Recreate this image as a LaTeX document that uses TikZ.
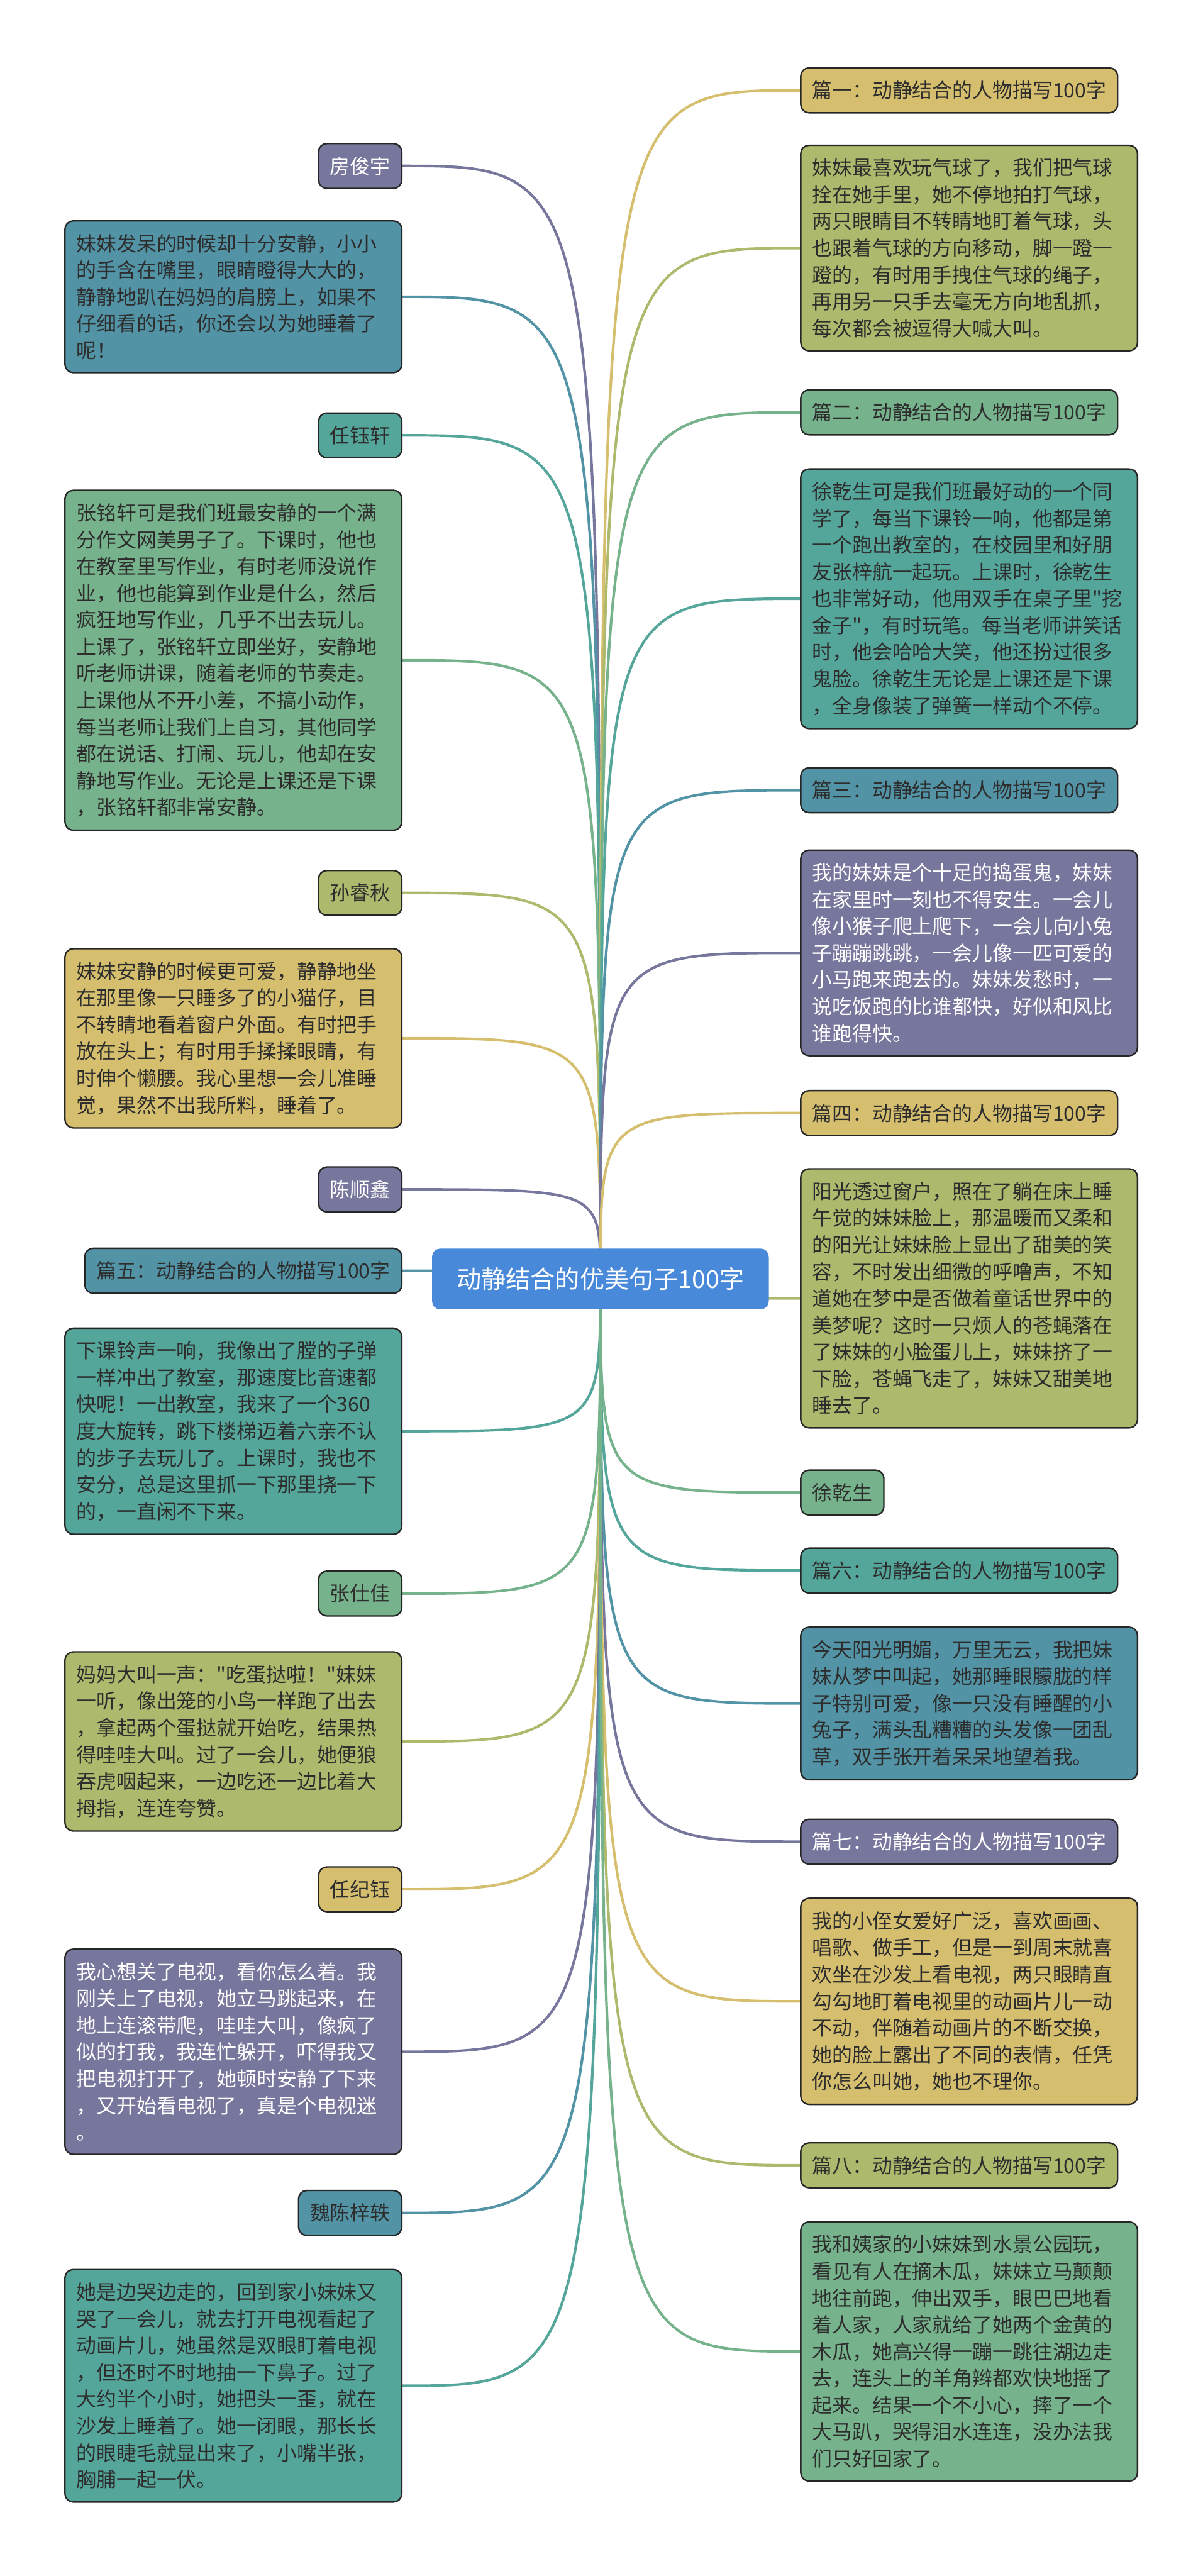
\documentclass[tikz,border=0pt]{standalone}
\usepackage{fontspec}
\setmainfont{Noto Sans CJK SC}[Ligatures=TeXOff]
\usetikzlibrary{backgrounds}
\definecolor{cpur}{HTML}{77779E}
\definecolor{cblu}{HTML}{5293A6}
\definecolor{ctea}{HTML}{55A69A}
\definecolor{cgrn}{HTML}{76B28B}
\definecolor{coli}{HTML}{ADB96C}
\definecolor{cyel}{HTML}{D5BE6E}
\definecolor{croot}{HTML}{4889DA}
\definecolor{ctxt}{HTML}{2D2D2D}

\begin{document}
\begin{tikzpicture}[x=1pt,y=-1pt,
  box/.style={draw=black!85, line width=0.9pt, rounded corners=5pt,
    inner xsep=7pt, inner ysep=8pt, text=ctxt,
    font=\fontsize{12.2}{16.3}\selectfont},
  body/.style={box, text width=191pt, align=left},
  lbox/.style={box, anchor=east},
  rbox/.style={box, anchor=west},
  link/.style={line width=1.6pt}]
\useasboundingbox (0,0) rectangle (732,1568);

\node[fill=croot, text=white, rounded corners=5pt, minimum width=205pt,
  minimum height=37pt, font=\fontsize{15}{18}\selectfont] (root) at (365.5,778.5)
  {动静结合的优美句子100字};

% left side
\node[lbox,fill=cpur,text=white] (l1) at (245,101) {房俊宇};
\node[body,fill=cblu,anchor=north east] (l2) at (245,134) {妹妹发呆的时候却十分安静，小小\\的手含在嘴里，眼睛瞪得大大的，\\静静地趴在妈妈的肩膀上，如果不\\仔细看的话，你还会以为她睡着了\\呢！};
\node[lbox,fill=ctea] (l3) at (245,265) {任钰轩};
\node[body,fill=cgrn,anchor=north east] (l4) at (245,298) {张铭轩可是我们班最安静的一个满\\分作文网美男子了。下课时，他也\\在教室里写作业，有时老师没说作\\业，他也能算到作业是什么，然后\\疯狂地写作业，几乎不出去玩儿。\\上课了，张铭轩立即坐好，安静地\\听老师讲课，随着老师的节奏走。\\上课他从不开小差，不搞小动作，\\每当老师让我们上自习，其他同学\\都在说话、打闹、玩儿，他却在安\\静地写作业。无论是上课还是下课\\，张铭轩都非常安静。};
\node[lbox,fill=coli] (l5) at (245,543.5) {孙睿秋};
\node[body,fill=cyel,anchor=north east] (l6) at (245,577) {妹妹安静的时候更可爱，静静地坐\\在那里像一只睡多了的小猫仔，目\\不转睛地看着窗户外面。有时把手\\放在头上；有时用手揉揉眼睛，有\\时伸个懒腰。我心里想一会儿准睡\\觉，果然不出我所料，睡着了。};
\node[lbox,fill=cpur,text=white] (l7) at (245,724) {陈顺鑫};
\node[lbox,fill=cblu] (l8) at (245,773.5) {篇五：动静结合的人物描写100字};
\node[body,fill=ctea,anchor=north east] (l9) at (245,808) {下课铃声一响，我像出了膛的子弹\\一样冲出了教室，那速度比音速都\\快呢！一出教室，我来了一个360\\度大旋转，跳下楼梯迈着六亲不认\\的步子去玩儿了。上课时，我也不\\安分，总是这里抓一下那里挠一下\\的，一直闲不下来。};
\node[lbox,fill=cgrn] (l10) at (245,970) {张仕佳};
\node[body,fill=coli,anchor=north east] (l11) at (245,1005) {妈妈大叫一声："吃蛋挞啦！"妹妹\\一听，像出笼的小鸟一样跑了出去\\，拿起两个蛋挞就开始吃，结果热\\得哇哇大叫。过了一会儿，她便狼\\吞虎咽起来，一边吃还一边比着大\\拇指，连连夸赞。};
\node[lbox,fill=cyel] (l12) at (245,1150) {任纪钰};
\node[body,fill=cpur,text=white,anchor=north east] (l13) at (245,1186) {我心想关了电视，看你怎么着。我\\刚关上了电视，她立马跳起来，在\\地上连滚带爬，哇哇大叫，像疯了\\似的打我，我连忙躲开，吓得我又\\把电视打开了，她顿时安静了下来\\，又开始看电视了，真是个电视迷\\。};
\node[lbox,fill=cblu] (l14) at (245,1347) {魏陈梓轶};
\node[body,fill=ctea,anchor=north east] (l15) at (245,1381) {她是边哭边走的，回到家小妹妹又\\哭了一会儿，就去打开电视看起了\\动画片儿，她虽然是双眼盯着电视\\，但还时不时地抽一下鼻子。过了\\大约半个小时，她把头一歪，就在\\沙发上睡着了。她一闭眼，那长长\\的眼睫毛就显出来了，小嘴半张，\\胸脯一起一伏。};

% right side
\node[rbox,fill=cyel] (r1) at (487,55) {篇一：动静结合的人物描写100字};
\node[body,fill=coli,anchor=north west] (r2) at (487,88) {妹妹最喜欢玩气球了，我们把气球\\拴在她手里，她不停地拍打气球，\\两只眼睛目不转睛地盯着气球，头\\也跟着气球的方向移动，脚一蹬一\\蹬的，有时用手拽住气球的绳子，\\再用另一只手去毫无方向地乱抓，\\每次都会被逗得大喊大叫。};
\node[rbox,fill=cgrn] (r3) at (487,251) {篇二：动静结合的人物描写100字};
\node[body,fill=ctea,anchor=north west] (r4) at (487,285) {徐乾生可是我们班最好动的一个同\\学了，每当下课铃一响，他都是第\\一个跑出教室的，在校园里和好朋\\友张梓航一起玩。上课时，徐乾生\\也非常好动，他用双手在桌子里"挖\\金子"，有时玩笔。每当老师讲笑话\\时，他会哈哈大笑，他还扮过很多\\鬼脸。徐乾生无论是上课还是下课\\，全身像装了弹簧一样动个不停。};
\node[rbox,fill=cblu] (r5) at (487,481) {篇三：动静结合的人物描写100字};
\node[body,fill=cpur,text=white,anchor=north west] (r6) at (487,517) {我的妹妹是个十足的捣蛋鬼，妹妹\\在家里时一刻也不得安生。一会儿\\像小猴子爬上爬下，一会儿向小兔\\子蹦蹦跳跳，一会儿像一匹可爱的\\小马跑来跑去的。妹妹发愁时，一\\说吃饭跑的比谁都快，好似和风比\\谁跑得快。};
\node[rbox,fill=cyel] (r7) at (487,677.5) {篇四：动静结合的人物描写100字};
\node[body,fill=coli,anchor=north west] (r8) at (487,711) {阳光透过窗户，照在了躺在床上睡\\午觉的妹妹脸上，那温暖而又柔和\\的阳光让妹妹脸上显出了甜美的笑\\容，不时发出细微的呼噜声，不知\\道她在梦中是否做着童话世界中的\\美梦呢？这时一只烦人的苍蝇落在\\了妹妹的小脸蛋儿上，妹妹挤了一\\下脸，苍蝇飞走了，妹妹又甜美地\\睡去了。};
\node[rbox,fill=cgrn] (r9) at (487,908.5) {徐乾生};
\node[rbox,fill=ctea] (r10) at (487,956) {篇六：动静结合的人物描写100字};
\node[body,fill=cblu,anchor=north west] (r11) at (487,990) {今天阳光明媚，万里无云，我把妹\\妹从梦中叫起，她那睡眼朦胧的样\\子特别可爱，像一只没有睡醒的小\\兔子，满头乱糟糟的头发像一团乱\\草，双手张开着呆呆地望着我。};
\node[rbox,fill=cpur,text=white] (r12) at (487,1121) {篇七：动静结合的人物描写100字};
\node[body,fill=cyel,anchor=north west] (r13) at (487,1155) {我的小侄女爱好广泛，喜欢画画、\\唱歌、做手工，但是一到周末就喜\\欢坐在沙发上看电视，两只眼睛直\\勾勾地盯着电视里的动画片儿一动\\不动，伴随着动画片的不断交换，\\她的脸上露出了不同的表情，任凭\\你怎么叫她，她也不理你。};
\node[rbox,fill=coli] (r14) at (487,1318) {篇八：动静结合的人物描写100字};
\node[body,fill=cgrn,anchor=north west] (r15) at (487,1352) {我和姨家的小妹妹到水景公园玩，\\看见有人在摘木瓜，妹妹立马颠颠\\地往前跑，伸出双手，眼巴巴地看\\着人家，人家就给了她两个金黄的\\木瓜，她高兴得一蹦一跳往湖边走\\去，连头上的羊角辫都欢快地摇了\\起来。结果一个不小心，摔了一个\\大马趴，哭得泪水连连，没办法我\\们只好回家了。};

\begin{scope}[on background layer]
\foreach \n/\c in {l1/cpur,l2/cblu,l3/ctea,l4/cgrn,l5/coli,l6/cyel,l7/cpur,l8/cblu,
  l9/ctea,l10/cgrn,l11/coli,l12/cyel,l13/cpur,l14/cblu,l15/ctea}
  \draw[link,draw=\c] (root.center) .. controls (root.center |- \n.east) .. (\n.east);
\foreach \n/\c in {r1/cyel,r2/coli,r3/cgrn,r4/ctea,r5/cblu,r6/cpur,r7/cyel,r8/coli,
  r9/cgrn,r10/ctea,r11/cblu,r12/cpur,r13/cyel,r14/coli,r15/cgrn}
  \draw[link,draw=\c] (root.center) .. controls (root.center |- \n.west) .. (\n.west);
\end{scope}
\end{tikzpicture}
\end{document}
